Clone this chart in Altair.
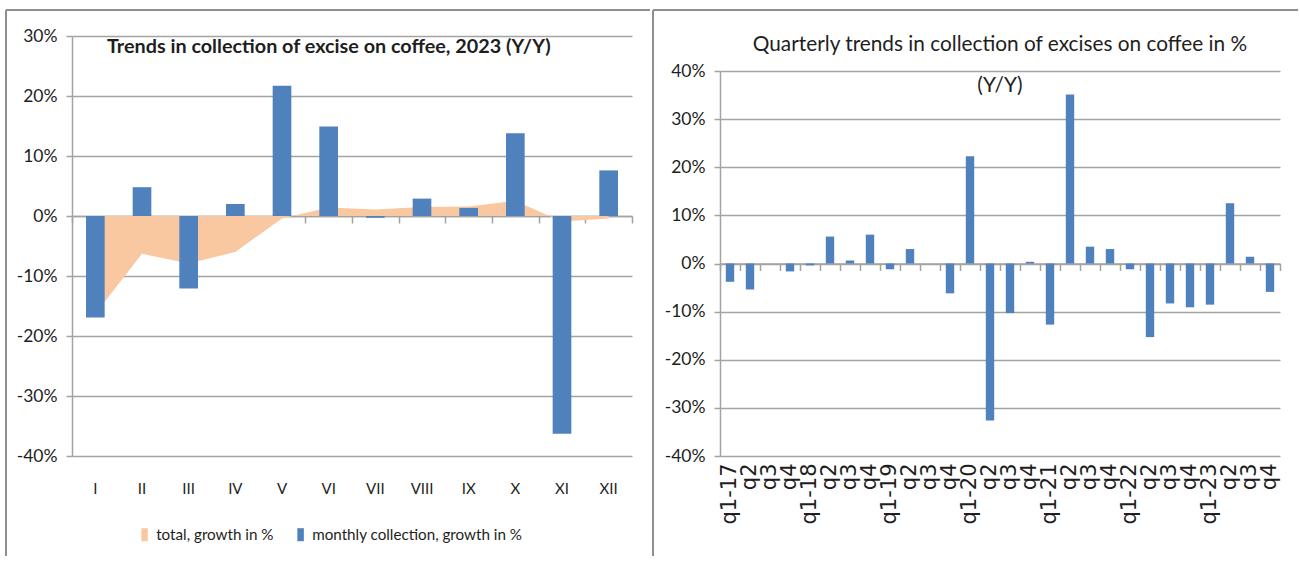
import altair as alt
import pandas as pd

# ---- data -------------------------------------------------------------
months = ["I", "II", "III", "IV", "V", "VI", "VII", "VIII", "IX", "X", "XI", "XII"]
monthly_growth = [-16.9, 4.8, -12.1, 2.0, 21.7, 14.9, -0.3, 2.9, 1.35, 13.8, -36.3, 7.6]
total_growth = [-16.3, -6.3, -7.9, -6.0, -0.4, 1.4, 1.1, 1.5, 1.6, 2.5, -0.9, -0.4]

quarter_labels = [
    "q1-17", "q2", "q3", "q4",
    "q1-18", "q2", "q3", "q4",
    "q1-19", "q2", "q3", "q4",
    "q1-20", "q2", "q3", "q4",
    "q1-21", "q2", "q3", "q4",
    "q1-22", "q2", "q3", "q4",
    "q1-23", "q2", "q3", "q4",
]
quarterly_growth = [
    -3.8, -5.4, None, -1.65,
    -0.4, 5.6, 0.6, 6.0,
    -1.2, 3.0, None, -6.2,
    22.3, -32.6, -10.3, 0.35,
    -12.7, 35.1, 3.5, 3.0,
    -1.2, -15.3, -8.3, -9.1,
    -8.55, 12.5, 1.4, -5.9,
]

TOTAL = "total, growth in %"
MONTHLY = "monthly collection, growth in %"
LEFT_TITLE = "Trends in collection of excise on coffee, 2023 (Y/Y)"
RIGHT_TITLE = ["Quarterly trends in collection of excises on coffee in %", "(Y/Y)"]

# ---- styling ----------------------------------------------------------
BLUE = "#4F81BD"
PEACH = "#FAC8A0"
GRID = "#a3a3a3"
EDGE = "#8f8f8f"
TEXT = "#1e1e1e"
FONT = "Lato"

# both panels share the same plot height; the quarterly scale uses the
# lower part of it so that its title sits above the 40% line
W, H = 560, 420
RIGHT_TOP = 35

one_row = pd.DataFrame({"k": [0]})


def edges(left, top, right, bottom):
    """Left and top border lines of a chart panel."""
    return [
        alt.Chart(one_row).mark_rule(color=EDGE, strokeWidth=2).encode(
            x=alt.value(left), y=alt.value(top), y2=alt.value(bottom)
        ),
        alt.Chart(one_row).mark_rule(color=EDGE, strokeWidth=2).encode(
            x=alt.value(left), x2=alt.value(right), y=alt.value(top)
        ),
    ]


def y_axis(lo, hi):
    return alt.Axis(
        values=list(range(lo, hi + 1, 10)),
        labelExpr="datum.value + '%'",
        grid=True, gridColor=GRID, gridWidth=1.5,
        domainColor=GRID, domainWidth=1.5,
        tickColor=GRID, tickWidth=1.5, tickSize=6,
        labelFont=FONT, labelFontSize=17.5, labelColor=TEXT, labelPadding=9,
        title=None,
    )


def zero_axis(offset):
    """Category axis drawn along the 0% line with ticks between categories."""
    return alt.Axis(
        orient="bottom", offset=offset, labels=False, grid=False,
        domainColor=GRID, domainWidth=1.5,
        ticks=True, tickBand="extent", tickSize=7, tickColor=GRID, tickWidth=1.5,
        title=None,
    )


# ---- left panel: monthly 2023 ----------------------------------------
monthly_df = pd.DataFrame({"month": months, "value": monthly_growth, "series": MONTHLY})
total_df = pd.DataFrame({"month": months, "value": total_growth, "series": TOTAL})

x_left = alt.Scale(domain=months, paddingInner=0, paddingOuter=0)
y_left = alt.Scale(domain=[-40, 30], nice=False)
color_scale = alt.Scale(domain=[TOTAL, MONTHLY], range=[PEACH, BLUE])
legend = alt.Legend(
    orient="none", legendX=65, legendY=491, direction="horizontal", title=None,
    symbolType="M-0.5,-1H0.5V1H-0.5Z", symbolSize=169, symbolStrokeWidth=0,
    symbolOpacity=1, labelFont=FONT, labelFontSize=15.2, labelColor=TEXT,
    labelOffset=4, labelLimit=400, columnPadding=19,
)

area = alt.Chart(total_df).mark_area(opacity=1).encode(
    x=alt.X(
        "month:N", scale=x_left, sort=months,
        axis=alt.Axis(
            orient="bottom", domain=False, ticks=False, labelAngle=0,
            labelFont=FONT, labelFontSize=15, labelColor=TEXT, labelPadding=25,
            title=None,
        ),
    ),
    y=alt.Y("value:Q", scale=y_left, axis=y_axis(-40, 30)),
    y2=alt.datum(0),
    color=alt.Color("series:N", scale=color_scale, legend=legend),
)

bars = alt.Chart(monthly_df).mark_bar(width=alt.RelativeBandSize(0.4)).encode(
    x=alt.X("month:N", scale=x_left, sort=months, axis=zero_axis(-H * 40 / 70)),
    y=alt.Y("value:Q", scale=y_left, axis=y_axis(-40, 30)),
    color=alt.Color("series:N", scale=color_scale, legend=legend),
)

left_title = alt.Chart(pd.DataFrame({"t": [LEFT_TITLE]})).mark_text(
    align="left", baseline="middle", font=FONT, fontSize=19.8, fontWeight="bold", color=TEXT
).encode(text="t:N", x=alt.value(35), y=alt.value(11))

left = alt.layer(
    area, bars, left_title, *edges(-66, -26, 578, 520)
).resolve_axis(x="independent").properties(width=W, height=H)

# ---- right panel: quarterly ------------------------------------------
quarter_keys = [f"{lab}|{i}" for i, lab in enumerate(quarter_labels)]
q_df = pd.DataFrame({"quarter": quarter_keys, "value": quarterly_growth})

x_right = alt.Scale(domain=quarter_keys, paddingInner=0, paddingOuter=0)
y_right = alt.Scale(domain=[-40, 40], nice=False, range=[H, RIGHT_TOP])

q_bars = alt.Chart(q_df).mark_bar(width=alt.RelativeBandSize(0.42), color=BLUE).encode(
    x=alt.X(
        "quarter:N", scale=x_right, sort=quarter_keys,
        axis=alt.Axis(
            orient="bottom", domain=False, ticks=False, labelAngle=270,
            labelExpr="split(datum.value, '|')[0]",
            labelFont="DejaVu Sans", labelFontSize=21, labelColor=TEXT,
            labelPadding=7, labelOverlap=False, title=None,
        ),
    ),
    y=alt.Y("value:Q", scale=y_right, axis=y_axis(-40, 40)),
)

q_zero = alt.Chart(q_df).mark_point(opacity=0, size=0).encode(
    x=alt.X(
        "quarter:N", scale=x_right, sort=quarter_keys,
        axis=zero_axis(-(H - RIGHT_TOP) / 2),
    ),
    y=alt.datum(0, scale=y_right),
)

right_title = [
    alt.Chart(pd.DataFrame({"t": [line]})).mark_text(
        align="center", baseline="middle", font=FONT, fontSize=20.8, color=TEXT
    ).encode(text="t:N", x=alt.value(W / 2), y=alt.value(ypos))
    for line, ypos in zip(RIGHT_TITLE, [9, 50])
]

right = alt.layer(
    q_bars, q_zero, *right_title, *edges(-67, -26, 578, 520)
).resolve_axis(x="independent").properties(width=W, height=H)

chart = (
    alt.hconcat(left, right, spacing=1)
    .properties(padding={"left": 5, "top": 9, "right": 0, "bottom": 0})
    .configure_view(strokeWidth=0)
)

chart.save("out.html", embed_options={"renderer": "svg", "actions": False})
